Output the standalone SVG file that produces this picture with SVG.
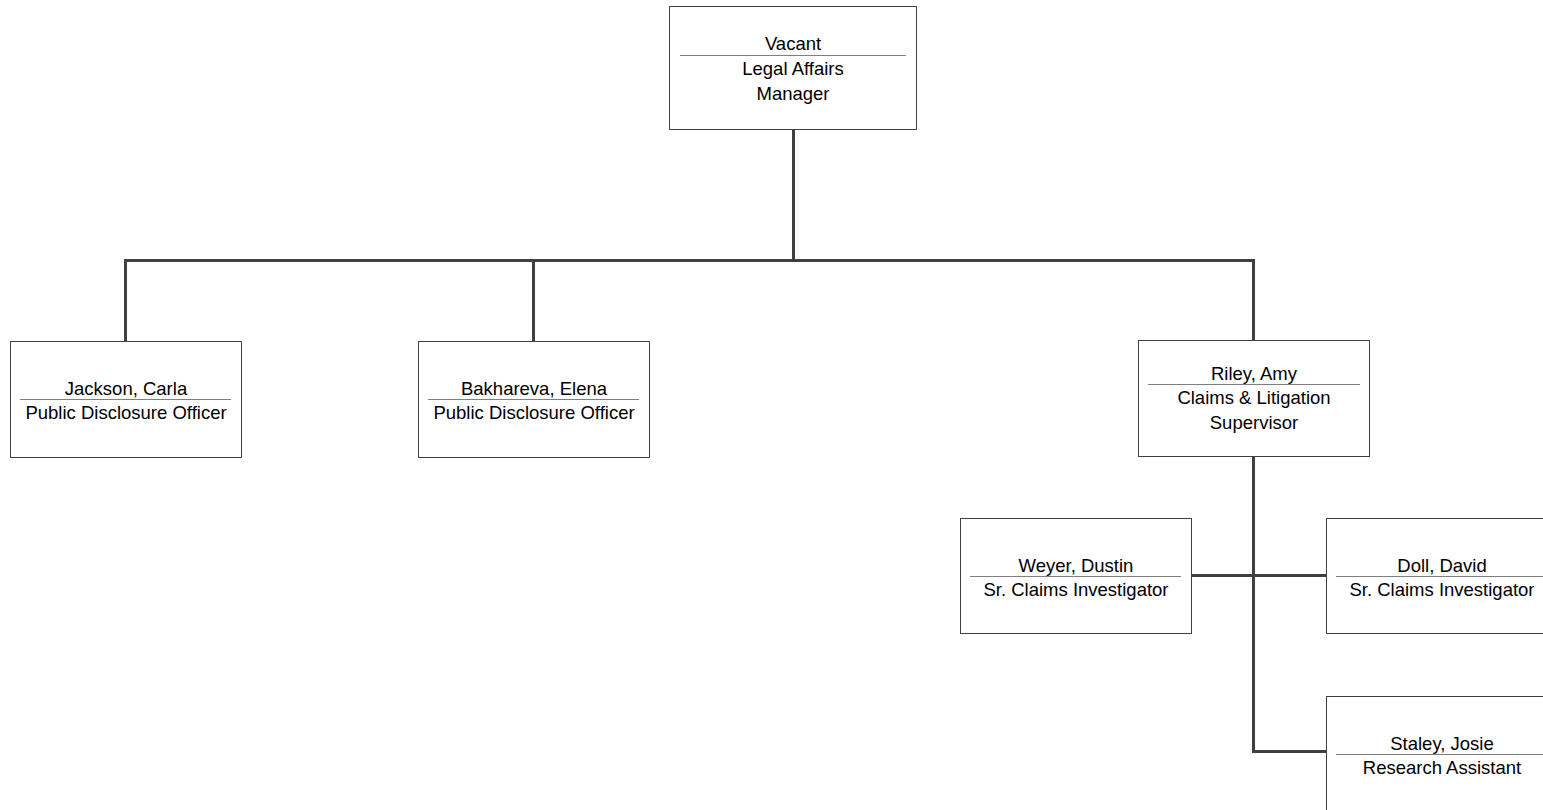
<svg xmlns="http://www.w3.org/2000/svg" width="1543" height="810" viewBox="0 0 1543 810">
<style>
.box{fill:#fff;stroke:#404040;stroke-width:1}
.div{stroke:#7f7f7f;stroke-width:1}
.t{font-family:"Liberation Sans",Arial,sans-serif;font-size:18.5px;fill:#000;text-anchor:middle}
.c{fill:none;stroke:#404040;stroke-width:3}
</style>
<rect width="1543" height="810" fill="#fff"/>
<g id="connectors">
<path class="c" d="M793.5,130 V260.5 M125.5,342 V260.5 H1253.5 V341 M533.5,260.5 V342"/>
<path class="c" d="M1253.5,457 V751.5 H1327 M1191,575.5 H1326"/>
</g>
<g id="n-vacant">
<rect class="box" x="669.5" y="6.5" width="247" height="123"/>
<line class="div" x1="680" y1="55.5" x2="906" y2="55.5"/>
<text class="t" x="793" y="50">Vacant</text>
<text class="t" x="793" y="75">Legal Affairs</text>
<text class="t" x="793" y="100">Manager</text>
</g>
<g id="n-jackson">
<rect class="box" x="10.5" y="341.5" width="231" height="116"/>
<line class="div" x1="20" y1="399.5" x2="231" y2="399.5"/>
<text class="t" x="126" y="394.5">Jackson, Carla</text>
<text class="t" x="126" y="419">Public Disclosure Officer</text>
</g>
<g id="n-bakhareva">
<rect class="box" x="418.5" y="341.5" width="231" height="116"/>
<line class="div" x1="428" y1="399.5" x2="639" y2="399.5"/>
<text class="t" x="534" y="394.5">Bakhareva, Elena</text>
<text class="t" x="534" y="419">Public Disclosure Officer</text>
</g>
<g id="n-riley">
<rect class="box" x="1138.5" y="340.5" width="231" height="116"/>
<line class="div" x1="1148" y1="384.5" x2="1360" y2="384.5"/>
<text class="t" x="1254" y="379.5">Riley, Amy</text>
<text class="t" x="1254" y="404">Claims &amp; Litigation</text>
<text class="t" x="1254" y="429">Supervisor</text>
</g>
<g id="n-weyer">
<rect class="box" x="960.5" y="518.5" width="231" height="115"/>
<line class="div" x1="970" y1="576.5" x2="1181" y2="576.5"/>
<text class="t" x="1076" y="571.5">Weyer, Dustin</text>
<text class="t" x="1076" y="596">Sr. Claims Investigator</text>
</g>
<g id="n-doll">
<rect class="box" x="1326.5" y="518.5" width="231" height="115"/>
<line class="div" x1="1336" y1="576.5" x2="1547" y2="576.5"/>
<text class="t" x="1442" y="571.5">Doll, David</text>
<text class="t" x="1442" y="596">Sr. Claims Investigator</text>
</g>
<g id="n-staley">
<rect class="box" x="1326.5" y="696.5" width="231" height="116"/>
<line class="div" x1="1336" y1="754.5" x2="1547" y2="754.5"/>
<text class="t" x="1442" y="749.5">Staley, Josie</text>
<text class="t" x="1442" y="774">Research Assistant</text>
</g>
</svg>
